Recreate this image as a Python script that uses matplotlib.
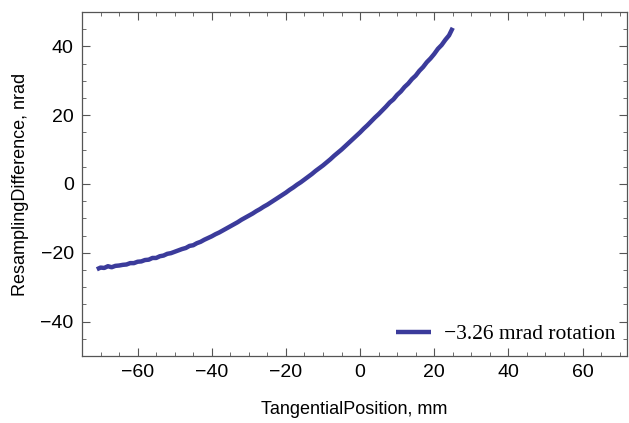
import matplotlib
matplotlib.use('Agg')
from matplotlib import pyplot as plt
from matplotlib.ticker import MultipleLocator
import numpy as np

# tangential position, mm (1 mm steps)
position = np.arange(-71, 26)

# resampling difference, nrad
difference = [
    -24.8, -24.3, -24.4, -23.9, -24.2, -23.8, -23.7, -23.5, -23.4, -23.0,
    -23.0, -22.6, -22.5, -22.1, -22.0, -21.5, -21.5, -21.0, -20.8, -20.3,
    -20.1, -19.7, -19.3, -18.9, -18.6, -18.0, -17.8, -17.2, -16.8, -16.2,
    -15.7, -15.2, -14.6, -14.1, -13.5, -12.9, -12.3, -11.7, -11.1, -10.4,
    -9.8, -9.2, -8.6, -7.9, -7.3, -6.6, -6.0, -5.3, -4.6, -3.9,
    -3.2, -2.5, -1.7, -1.0, -0.2, 0.5, 1.3, 2.1, 2.9, 3.8,
    4.6, 5.4, 6.3, 7.2, 8.2, 9.1, 10.0, 11.0, 12.0, 13.0,
    14.0, 15.0, 16.1, 17.1, 18.2, 19.3, 20.3, 21.4, 22.5, 23.7,
    24.6, 25.9, 26.9, 28.2, 29.2, 30.5, 31.5, 32.9, 34.0, 35.4,
    36.5, 37.8, 39.3, 40.4, 41.9, 43.2, 45.4,
]
series_label = '\u22123.26 mrad rotation'

fig = plt.figure(figsize=(6.29, 4.23), dpi=100)
ax = fig.add_axes([82 / 629, 1 - 356 / 423, (627 - 82) / 629, (356 - 12) / 423])

ax.plot(position, difference, color='#3b3b9b', linewidth=3.2, label=series_label,
        solid_capstyle='butt')

ax.set_xlim(-75, 72)
ax.set_ylim(-50, 50)
ax.xaxis.set_major_locator(MultipleLocator(20))
ax.xaxis.set_minor_locator(MultipleLocator(5))
ax.yaxis.set_major_locator(MultipleLocator(20))
ax.yaxis.set_minor_locator(MultipleLocator(5))

for side in ax.spines.values():
    side.set_color('#555555')
    side.set_linewidth(0.9)

ax.tick_params(which='both', direction='in', top=True, right=True, colors='#555555',
               labelcolor='black', labelsize=14, pad=6)
ax.tick_params(which='major', length=6, width=0.8)
ax.tick_params(which='minor', length=3, width=0.6)
for lab in ax.get_xticklabels() + ax.get_yticklabels():
    lab.set_family('Liberation Sans')

ax.set_xlabel('TangentialPosition, mm', fontsize=13, family='Liberation Sans', labelpad=14)
ax.set_ylabel('ResamplingDifference, nrad', fontsize=13, family='Liberation Sans', labelpad=8)

ax.legend(loc='lower right', frameon=False, handlelength=1.6, handletextpad=0.6,
          prop={'family': 'Liberation Serif', 'size': 15.5}, borderaxespad=0.15)

fig.savefig('out.png', dpi=100)
